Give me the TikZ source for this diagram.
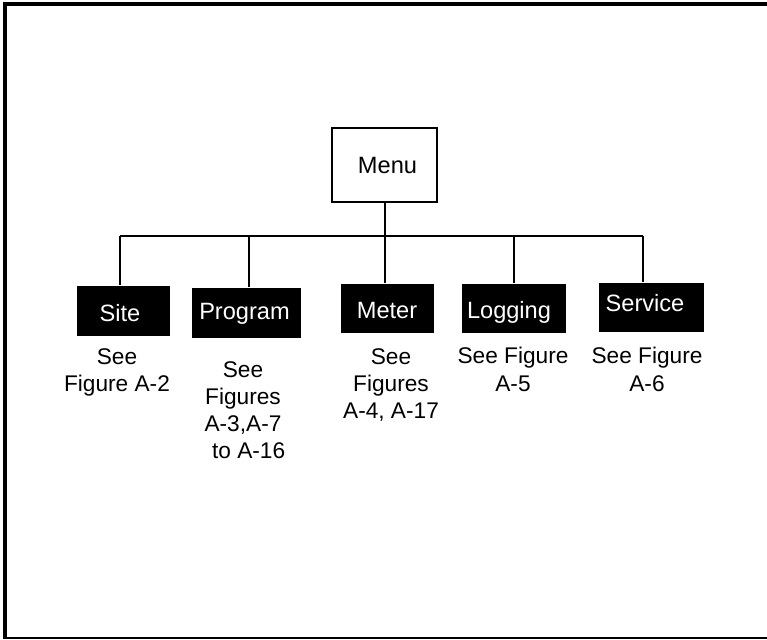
\documentclass[tikz,border=0pt]{standalone}
\usepackage{fontspec}
\setmainfont{Liberation Sans}
\begin{document}
\begin{tikzpicture}[x=0.75pt,y=-0.75pt,
  line width=0.8pt,
  whitebox/.style={draw=black,line width=0.8pt,fill=white,inner sep=0pt},
  blackbox/.style={fill=black,draw=none,inner sep=0pt},
  boxtext/.style={text=white,inner sep=0pt,anchor=base,font=\fontsize{17.7}{20}\selectfont},
  menutext/.style={inner sep=0pt,anchor=base,font=\fontsize{17.7}{20}\selectfont},
  lbl/.style={inner sep=0pt,anchor=north,align=center,font=\fontsize{17}{20.3}\selectfont},
  conn/.style={draw=black,line width=0.8pt}]
\useasboundingbox (0,0) rectangle (767,639);
% frame
\draw[line width=3pt] (3,4) -- (767,4);
\draw[line width=3pt] (5,2) -- (5,639);
\draw[line width=1.2pt] (3,638) -- (767,638);
% menu
\node[whitebox,minimum width=105*0.75pt,minimum height=74*0.75pt] (menu) at (384.5,165) {};
\node[menutext] (menuT) at (387.5,173) {Menu};
% boxes
\node[blackbox,minimum width=93*0.75pt,minimum height=50*0.75pt] (site) at (123.5,311) {};
\node[blackbox,minimum width=109*0.75pt,minimum height=50*0.75pt] (program) at (246.5,313) {};
\node[blackbox,minimum width=93*0.75pt,minimum height=49*0.75pt] (meter) at (387.5,308.5) {};
\node[blackbox,minimum width=104*0.75pt,minimum height=49*0.75pt] (logging) at (514,308.5) {};
\node[blackbox,minimum width=105*0.75pt,minimum height=49*0.75pt] (service) at (651.5,307.5) {};
\node[boxtext] (siteT) at (120,321) {Site};
\node[boxtext] (programT) at (244.5,319) {Program};
\node[boxtext] (meterT) at (387,318) {Meter};
\node[boxtext] (loggingT) at (509,318) {Logging};
\node[boxtext] (serviceT) at (645,311) {Service};
% connectors
\coordinate (busM) at (385,236);
\coordinate (busSite) at (120,236);
\coordinate (busProgram) at (249,236);
\coordinate (busLogging) at (514,236);
\coordinate (busService) at (643,236);
\draw[conn] (menu.south -| busM) -- (busM);
\draw[conn] (busSite) -- (busService);
\draw[conn] (busSite) -- (busSite |- site.north);
\draw[conn] (busProgram) -- (busProgram |- program.north);
\draw[conn] (busM) -- (busM |- meter.north);
\draw[conn] (busLogging) -- (busLogging |- logging.north);
\draw[conn] (busService) -- (busService |- service.north);
% labels
\node[lbl] (siteL) at (117,348) {See\\Figure A-2};
\node[lbl] (programL) at (243,361) {See\\Figures\\A-3,A-7\\\hspace*{0.5em}to A-16};
\node[lbl] (meterL) at (391,348) {See\\Figures\\A-4, A-17};
\node[lbl] (loggingL) at (513,347) {See Figure\\A-5};
\node[lbl] (serviceL) at (647,347) {See Figure\\A-6};
\end{tikzpicture}
\end{document}
